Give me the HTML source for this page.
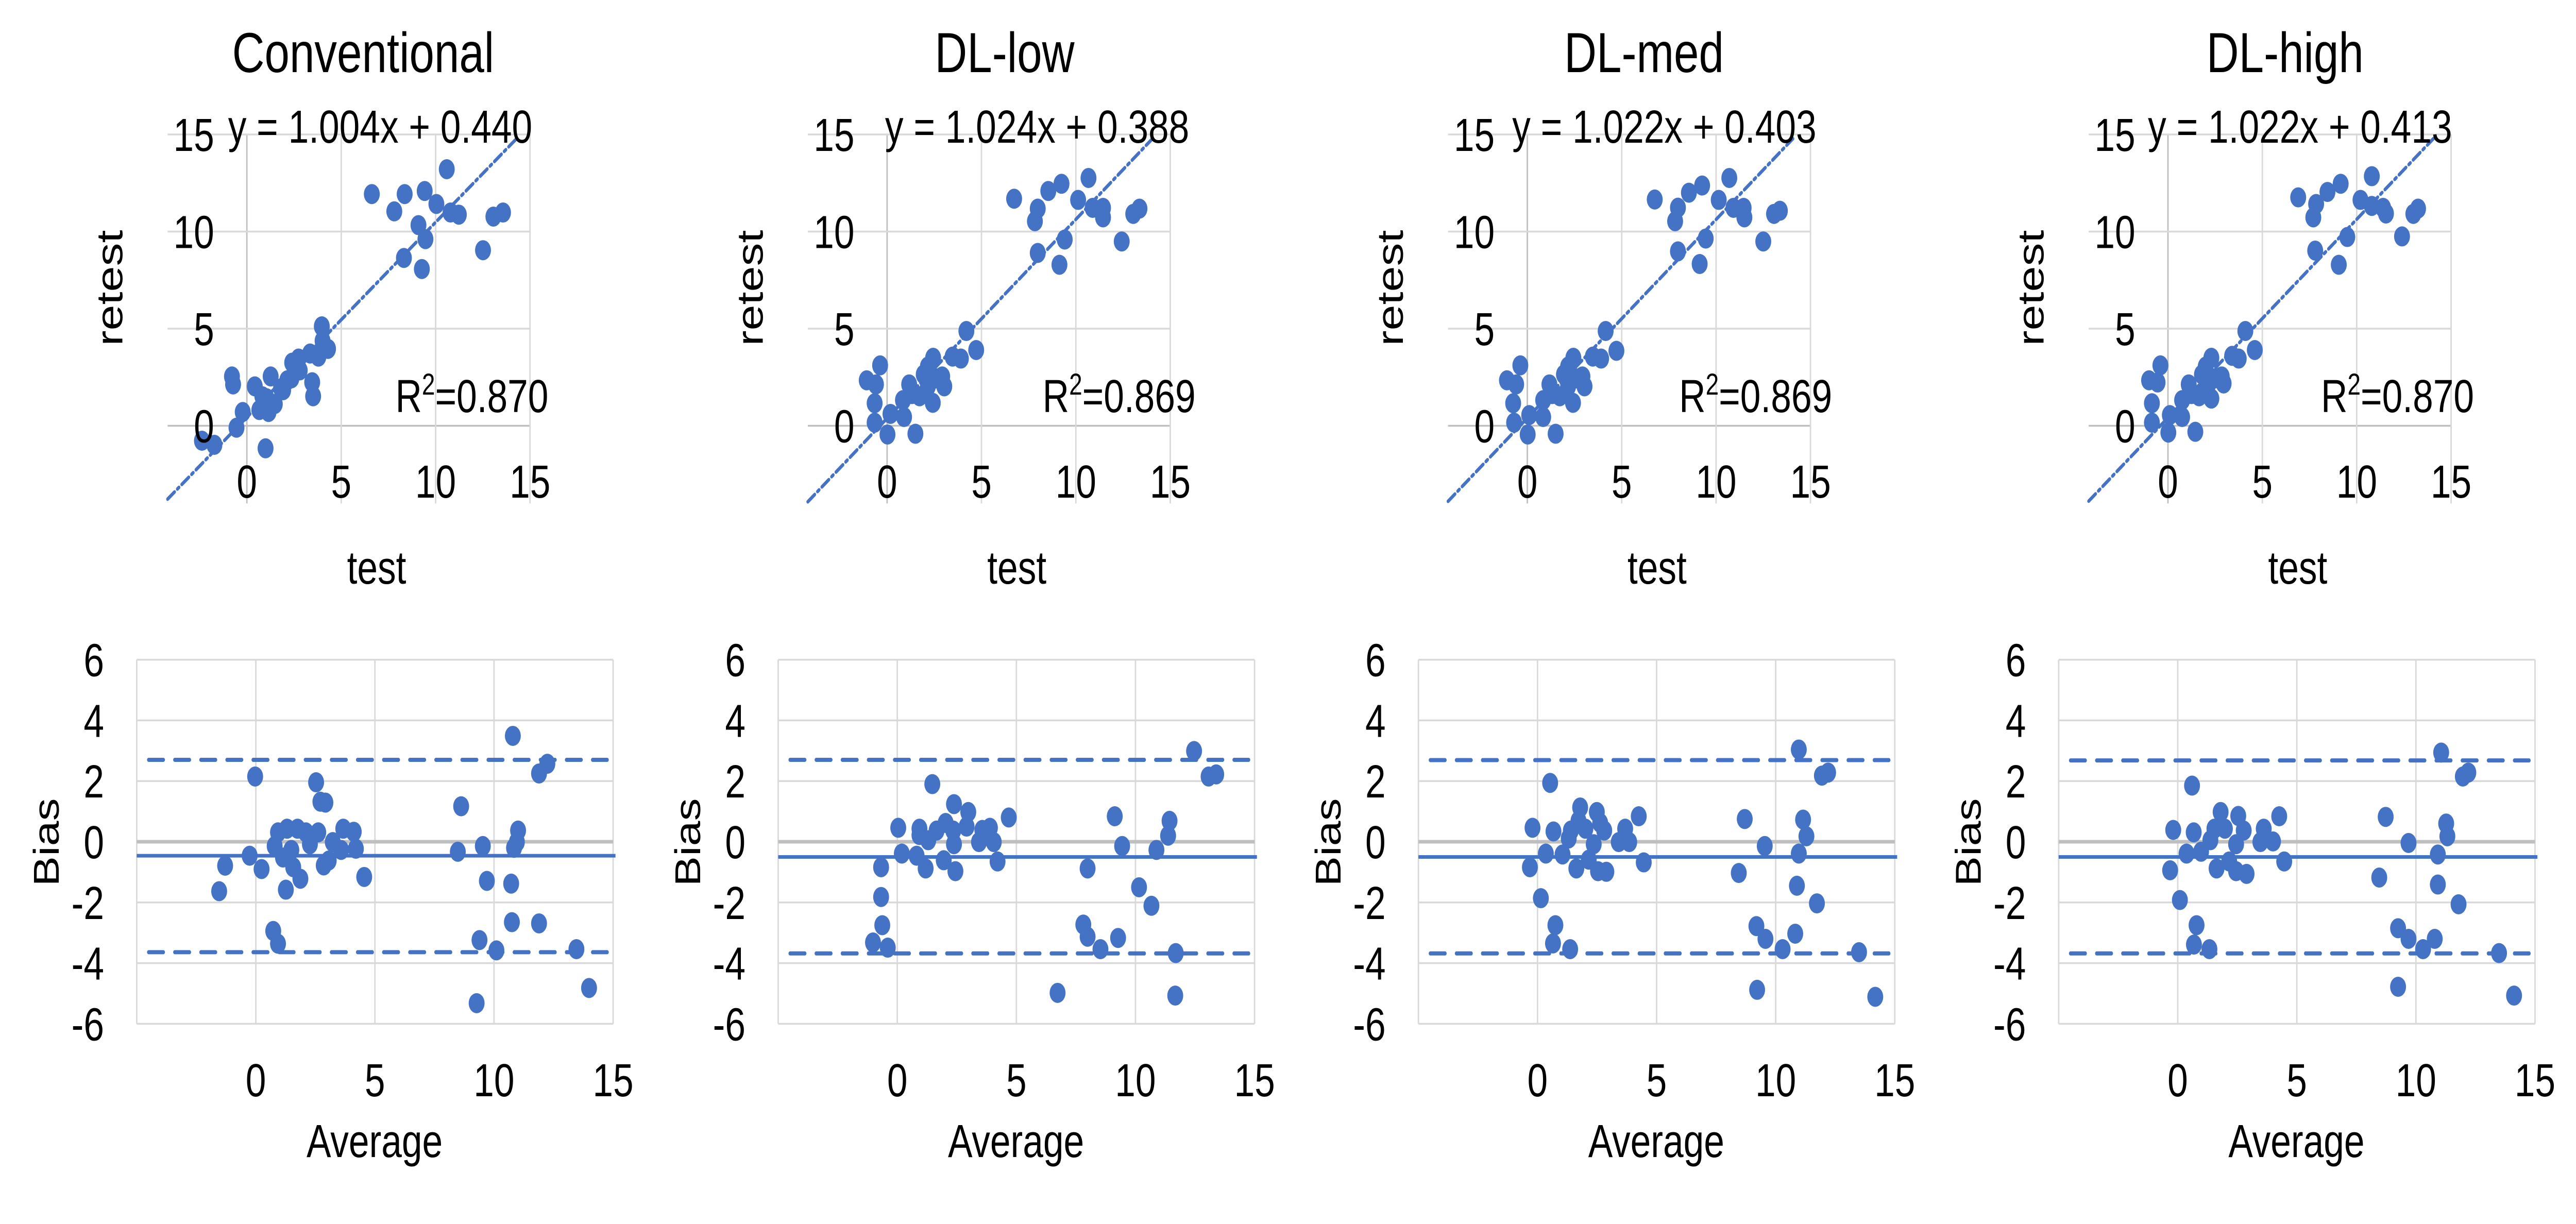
<!DOCTYPE html>
<html><head><meta charset="utf-8">
<style>
html,body{margin:0;padding:0;background:#fff;width:100%;height:100%;overflow:hidden;}
svg{display:block;width:100vw;height:100vh;}
text{font-family:"Liberation Sans",Arial,sans-serif;fill:#000;}
</style></head>
<body>
<svg id="chart" xmlns="http://www.w3.org/2000/svg" viewBox="0 0 6313 2376" preserveAspectRatio="none"></svg>
<script>
// ---------- DATA ----------
const panelTitles = ["Conventional", "DL-low", "DL-med", "DL-high"];
const equations = ["y = 1.004x + 0.440", "y = 1.024x + 0.388", "y = 1.022x + 0.403", "y = 1.022x + 0.413"];
const slopes = [1.004, 1.024, 1.022, 1.022];
const intercepts = [0.440, 0.388, 0.403, 0.413];
const r2Values = ["0.870", "0.869", "0.869", "0.870"];
const scatterTicks = [0, 5, 10, 15];
const baTicksY = [6, 4, 2, 0, -2, -4, -6];
const baTicksX = [0, 5, 10, 15];
const baMean = [-0.46, -0.50, -0.50, -0.50];
const baUpper = [2.70, 2.70, 2.69, 2.68];
const baLower = [-3.64, -3.68, -3.68, -3.68];

const test1 = [6.62,7.81,8.36,9.42,10.59,10.04,10.79,11.23,9.09,9.46,8.32,9.27,12.51,13.06,13.57,3.97,4.01,4.30,3.79,3.35,2.74,2.40,3.46,3.51,2.14,1.81,1.26,0.42,0.82,1.48,0.66,1.15,-0.22,-0.55,-0.79,-0.73,-2.38,-1.72,0.99,2.80,1.92,1.04,2.36];
const retest1 = [11.93,11.04,11.93,12.09,13.21,11.42,10.98,10.87,10.33,9.61,8.64,8.07,9.04,10.77,10.98,5.12,4.37,3.96,3.56,3.72,3.46,3.25,2.24,1.52,2.34,1.93,2.54,2.03,1.52,1.12,0.81,0.71,0.71,-0.10,2.54,2.13,-0.77,-0.98,-1.16,2.85,1.83,1.42,2.44];
const test2 = [6.73,7.98,7.83,8.54,9.24,10.67,10.12,10.89,11.44,11.44,9.41,7.98,9.13,12.43,13.04,13.37,4.20,4.72,3.91,3.47,2.44,2.16,2.92,3.03,1.94,1.17,2.42,0.84,1.32,1.72,-0.37,-1.08,-0.59,-0.66,-0.66,0.18,0.90,0.02,1.50,2.16,2.60];
const retest2 = [11.69,11.18,10.53,12.09,12.46,12.76,11.63,11.22,11.22,10.73,9.59,8.90,8.29,9.49,10.91,11.18,4.88,3.90,3.46,3.56,3.50,3.05,2.54,2.03,2.64,2.13,1.18,1.32,1.63,1.52,3.11,2.34,2.13,1.16,0.16,0.61,0.45,-0.45,-0.41,2.03,2.44];
const test3 = [6.75,7.98,7.83,8.56,9.26,10.70,10.14,10.92,11.46,11.50,9.45,7.98,9.13,12.50,13.07,13.38,4.15,4.72,3.91,3.47,2.44,2.16,2.92,3.03,1.94,1.17,2.42,0.84,1.32,1.72,-0.37,-1.08,-0.59,-0.75,-0.70,0.10,0.84,0.02,1.50,2.16,2.60];
const retest3 = [11.65,11.23,10.53,12.00,12.37,12.76,11.63,11.22,11.22,10.73,9.64,8.98,8.33,9.49,10.91,11.07,4.88,3.86,3.46,3.56,3.50,3.05,2.54,2.03,2.64,2.13,1.18,1.32,1.63,1.52,3.11,2.34,2.13,1.16,0.16,0.55,0.45,-0.45,-0.41,2.03,2.44];
const test4 = [6.90,7.85,7.70,8.45,9.15,10.80,10.20,10.80,11.40,11.55,9.50,7.80,9.05,12.40,13.00,13.25,4.10,4.60,3.75,3.40,2.30,2.00,2.85,2.95,1.80,1.10,2.30,0.75,1.25,1.65,-0.40,-1.00,-0.55,-0.85,-0.85,0.10,0.75,0.02,1.45,2.10,2.50];
const retest4 = [11.76,11.42,10.73,12.04,12.46,12.85,11.63,11.32,11.22,10.93,9.72,9.02,8.29,9.75,10.91,11.18,4.88,3.90,3.46,3.60,3.50,3.05,2.54,2.18,2.64,2.13,1.40,1.32,1.63,1.52,3.11,2.34,2.23,1.16,0.16,0.55,0.45,-0.35,-0.31,2.03,2.44];

const avg1 = [-0.03,-1.54,-1.29,-0.26,0.24,0.79,0.93,1.31,1.75,2.10,2.62,1.49,1.14,1.57,1.87,1.26,0.73,0.93,2.53,2.71,2.92,2.27,2.85,3.06,3.23,3.67,4.11,4.20,3.58,4.55,8.62,8.48,9.53,9.70,9.39,10.10,9.27,10.79,11.01,10.96,10.84,10.72,10.75,11.89,12.24,11.89,13.46,13.99];
const bias1 = [2.15,-1.63,-0.79,-0.46,-0.90,-0.14,0.31,0.43,0.43,0.31,0.31,-0.27,-0.52,-0.84,-1.22,-1.58,-2.94,-3.36,1.96,1.32,1.29,-0.08,-0.78,-0.62,-0.01,0.43,0.33,-0.23,-0.27,-1.16,1.17,-0.33,-0.14,-1.29,-3.24,-3.58,-5.32,3.49,0.37,-0.01,-0.20,-1.38,-2.65,2.25,2.57,-2.69,-3.54,-4.82];
const avg2 = [1.47,0.04,0.19,-0.68,-0.68,-0.63,-1.02,-0.40,0.93,0.93,0.81,1.19,1.65,2.03,2.35,2.38,1.95,2.44,2.38,2.98,2.91,3.57,3.89,4.05,3.43,4.21,4.68,1.30,6.73,7.99,7.81,7.99,8.53,9.13,9.44,9.27,10.15,10.67,10.88,11.43,11.37,11.69,11.67,12.46,13.07,13.39];
const bias2 = [1.90,0.46,-0.39,-0.84,-1.82,-2.75,-3.32,-3.49,0.43,0.22,-0.46,-0.88,0.37,0.62,0.37,-0.08,-0.61,-0.97,1.24,0.98,0.50,0.39,0.46,-0.01,-0.01,-0.65,0.80,0.05,-4.98,-0.88,-2.73,-3.13,-3.54,0.84,-0.14,-3.17,-1.50,-2.11,-0.27,0.69,0.20,-3.67,-5.07,2.99,2.15,2.22];
const avg3 = [0.53,-0.21,-0.32,0.35,0.14,0.75,0.65,1.37,0.67,1.05,1.63,1.79,1.72,1.40,2.01,2.36,2.15,2.54,2.89,2.49,2.63,2.80,3.41,3.68,3.85,4.25,4.46,1.31,8.70,8.45,9.54,9.19,9.57,9.22,10.29,10.97,11.15,11.29,10.97,10.89,10.82,11.73,11.94,12.20,13.50,14.18];
const bias3 = [1.94,0.46,-0.84,-0.39,-1.86,-2.75,-3.35,-3.54,0.34,-0.42,-0.88,1.13,0.69,0.37,0.43,-0.08,-0.59,-0.97,-0.99,0.98,0.62,0.37,-0.01,0.43,-0.01,0.84,-0.68,0.11,0.75,-1.03,-0.14,-2.78,-3.20,-4.88,-3.54,3.04,0.73,0.18,-0.39,-1.45,-3.03,-2.03,2.18,2.28,-3.64,-5.11];
const avg4 = [0.60,-0.19,-0.32,0.37,0.09,0.79,0.68,1.33,0.67,0.98,1.63,1.80,1.54,1.98,2.45,2.16,2.45,2.89,2.54,2.77,3.47,3.61,4.00,4.26,4.47,1.37,8.73,8.46,9.69,9.25,9.69,9.25,10.30,11.06,11.27,11.32,10.92,10.92,10.79,11.79,11.97,12.20,13.49,14.12];
const bias4 = [1.85,0.39,-0.94,-0.39,-1.92,-2.75,-3.39,-3.54,0.31,-0.33,-0.88,0.98,0.43,0.43,-0.08,-0.65,-0.97,-1.06,0.85,0.37,-0.01,0.43,0.01,0.84,-0.65,0.05,0.82,-1.18,-0.04,-2.85,-3.20,-4.78,-3.54,2.94,0.60,0.18,-0.42,-1.41,-3.20,-2.06,2.15,2.28,-3.67,-5.07];

const scTests = [test1, test2, test3, test4];
const scRetests = [retest1, retest2, retest3, retest4];
const baAvgs = [avg1, avg2, avg3, avg4];
const baBiases = [bias1, bias2, bias3, bias4];

// ---------- LAYOUT ----------
const NS = "http://www.w3.org/2000/svg";
const svg = document.getElementById("chart");
const BLUE = "#4472C4";
const scX0 = [605, 2174, 3743, 5313];
const baX0 = [627, 2199, 3768, 5337];
const SC_UX = 46.26, SC_UY = 37.7, SC_Y0 = 826.5;
const BA_UX = 58.37, BA_UY = 58.9, BA_Y0 = 1634;
const FS = 90;

function mk(tag, attrs, parent) {
  const e = document.createElementNS(NS, tag);
  for (const k in attrs) e.setAttribute(k, attrs[k]);
  (parent || svg).appendChild(e);
  return e;
}
function txt(str, x, y, size, anchor, parent) {
  const t = mk("text", {x: x, y: y, "font-size": size, "text-anchor": anchor}, parent);
  t.textContent = str;
  return t;
}

for (let p = 0; p < 4; p++) {
  // ===== scatter =====
  const g = mk("g", {});
  
  
  const x0 = scX0[p];
  const sx = v => x0 + v * SC_UX;
  const sy = v => SC_Y0 - v * SC_UY;
  const xmin = -4.2, ymin = -4;
  scatterTicks.forEach(v => {
    const hl = mk("line", {x1: sx(xmin), x2: sx(15), y1: sy(v), y2: sy(v), stroke: v === 0 ? "#BFBFBF" : "#D9D9D9", "stroke-width": 3.5}, g);
    
    
    const vl = mk("line", {x1: sx(v), x2: sx(v), y1: sy(15), y2: sy(ymin), stroke: v === 0 ? "#BFBFBF" : "#D9D9D9", "stroke-width": 3.5}, g);
    
    
  });
  const m = slopes[p], b = intercepts[p];
  let xa = xmin, ya = m * xa + b;
  if (ya < ymin) { xa = (ymin - b) / m; ya = ymin; }
  const xb = (15 - b) / m * 0.985, yb = m * xb + b;
  const tl = mk("line", {x1: sx(xa), y1: sy(ya), x2: sx(xb), y2: sy(yb), stroke: BLUE, "stroke-width": 7, "stroke-dasharray": "22 9 5 9", "stroke-linecap": "round"}, g);
  
  
  const ts = scTests[p], rs = scRetests[p];
  for (let i = 0; i < ts.length; i++) {
    const c = mk("circle", {cx: sx(ts[i]), cy: sy(rs[i]), r: 19.5, fill: BLUE}, g);
    
    
  }
  scatterTicks.forEach(v => {
    const a = txt(String(v), sx(v), 966, FS, "middle", g);
    
    
    const c = txt(String(v), x0 - 80, sy(v) + 32, FS, "end", g);
    
    
  });
  const ti = txt(panelTitles[p], [890, 2462, 4029, 5600][p], 140, 110, "middle", g);
  
  
  const eq = txt(equations[p], [559, 2169, 3706, 5264][p], 277, FS, "start", g);
  
  
  const r2 = mk("text", {x: [969, 2555, 4115, 5688][p], y: 800, "font-size": FS}, g);
  
  
  r2.innerHTML = 'R<tspan dy="-34" font-size="58">2</tspan><tspan dy="34">=' + r2Values[p] + '</tspan>';
  const yl = txt("retest", 0, 0, FS, "middle", g);
  yl.setAttribute("transform", "translate(" + (x0 - 305) + ",559) rotate(-90)");
  
  
  const xl = txt("test", x0 + 318, 1133, FS, "middle", g);
  
  

  // ===== Bland-Altman =====
  const h = mk("g", {});
  
  
  const bx0 = baX0[p];
  const bx = v => bx0 + v * BA_UX;
  const by = v => BA_Y0 - v * BA_UY;
  [-5, 0, 5, 10, 15].forEach(v => {
    const l = mk("line", {x1: bx(v), x2: bx(v), y1: by(6), y2: by(-6), stroke: "#D9D9D9", "stroke-width": 3.5}, h);
    
    
  });
  baTicksY.forEach(v => {
    const l = mk("line", {x1: bx(-5), x2: bx(15), y1: by(v), y2: by(v), stroke: v === 0 ? "#BFBFBF" : "#D9D9D9", "stroke-width": v === 0 ? 7 : 3.5}, h);
    
    
    const t = txt(String(v), bx0 - 372, by(v) + 32, FS, "end", h);
    
    
  });
  baTicksX.forEach(v => {
    const t = txt(String(v), bx(v), 2128, FS, "middle", h);
    
    
  });
  const ml = mk("line", {x1: bx(-5), x2: bx(15.1), y1: by(baMean[p]), y2: by(baMean[p]), stroke: BLUE, "stroke-width": 7}, h);
  
  
  [baUpper[p], baLower[p]].forEach((v, k) => {
    const l = mk("line", {x1: bx(-4.5), x2: bx(14.75), y1: by(v), y2: by(v), stroke: BLUE, "stroke-width": 8, "stroke-dasharray": "36 28", "stroke-linecap": "round"}, h);
    
    
  });
  const av = baAvgs[p], bi = baBiases[p];
  for (let i = 0; i < av.length; i++) {
    const c = mk("circle", {cx: bx(av[i]), cy: by(bi[i]), r: 19.5, fill: BLUE}, h);
    
    
  }
  const bl = txt("Bias", 0, 0, 88, "middle", h);
  bl.setAttribute("transform", "translate(" + (bx0 - 483) + ",1635) rotate(-90)");
  
  
  const al = txt("Average", bx0 + 291, 2246, FS, "middle", h);
  
  
}
</script>
</body></html>
